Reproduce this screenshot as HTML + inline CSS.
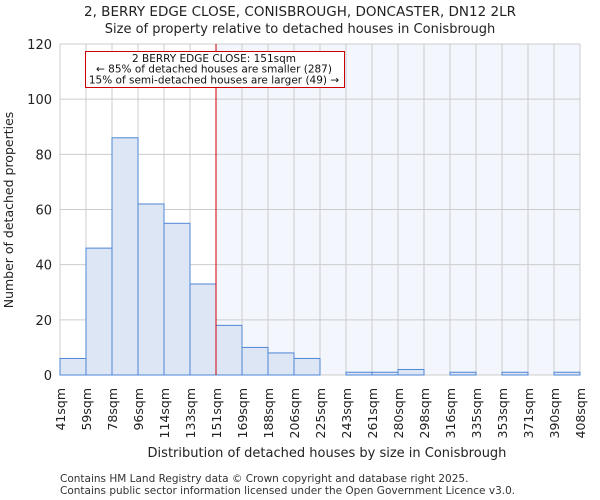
<!DOCTYPE html>
<html><head><meta charset="utf-8"><style>
body{margin:0;background:#fff;}
svg{display:block;font-family:"DejaVu Sans","Liberation Sans",sans-serif;}
</style></head><body>
<svg id="chart" width="600" height="500" viewBox="0 0 600 500">
<text x="300" y="16" text-anchor="middle" font-size="13.5" fill="#222">2, BERRY EDGE CLOSE, CONISBROUGH, DONCASTER, DN12 2LR</text>
<text x="300" y="33" text-anchor="middle" font-size="13" fill="#222">Size of property relative to detached houses in Conisbrough</text>
<g id="plot"></g>
<text x="327" y="457" text-anchor="middle" font-size="13" fill="#222">Distribution of detached houses by size in Conisbrough</text>
<text transform="translate(13,210) rotate(-90)" text-anchor="middle" font-size="12.5" fill="#222">Number of detached properties</text>
<text x="60" y="482" font-size="10.5" fill="#333">Contains HM Land Registry data © Crown copyright and database right 2025.</text>
<text x="60" y="494" font-size="10.5" fill="#333">Contains public sector information licensed under the Open Government Licence v3.0.</text>
</svg>
<script>
const edges = ["41sqm","59sqm","78sqm","96sqm","114sqm","133sqm","151sqm","169sqm","188sqm","206sqm","225sqm","243sqm","261sqm","280sqm","298sqm","316sqm","335sqm","353sqm","371sqm","390sqm","408sqm"];
const counts = [6,46,86,62,55,33,18,10,8,6,0,1,1,2,0,1,0,1,0,1];
const yTicks = [0,20,40,60,80,100,120];
const markerIndex = 6;
const NS="http://www.w3.org/2000/svg";
const X0=60,X1=580,Y0=375,Y1=44,YMAX=120;
const bw=(X1-X0)/counts.length;
const xs=i=>X0+i*bw;
const ys=v=>Y0-(v/YMAX)*(Y0-Y1);
const g=document.getElementById('plot');
function mk(tag,attrs){const e=document.createElementNS(NS,tag);for(const k in attrs)e.setAttribute(k,attrs[k]);g.appendChild(e);return e;}
let r=mk('rect',{x:xs(markerIndex),y:Y1,width:X1-xs(markerIndex),height:Y0-Y1,fill:'#f3f6fd'});


yTicks.forEach(t=>{
  let l=mk('line',{x1:X0,x2:X1,y1:ys(t),y2:ys(t),stroke:'#cccccc','stroke-width':1});
  
  
  let tx=mk('text',{x:X0-8,y:ys(t)+5,'text-anchor':'end','font-size':13,fill:'#222'});
  tx.textContent=t;
  
  
});
edges.forEach((e,i)=>{
  let l=mk('line',{x1:xs(i),x2:xs(i),y1:Y1,y2:Y0,stroke:'#cccccc','stroke-width':1});
  
  
  let tx=mk('text',{transform:`translate(${xs(i)+5},388) rotate(-90)`,'text-anchor':'end','font-size':12.5,fill:'#222'});
  tx.textContent=e;
  
  
});
counts.forEach((c,i)=>{
  if(c<=0)return;
  let b=mk('rect',{x:xs(i),y:ys(c),width:bw,height:Y0-ys(c),fill:'#dce6f5',stroke:'#4f86d6','stroke-width':1});
  
  
});
let m=mk('line',{x1:xs(markerIndex),x2:xs(markerIndex),y1:Y1,y2:Y0,stroke:'#cc0000','stroke-width':1});


let box=mk('rect',{x:85.5,y:51.5,width:259,height:36,fill:'#fff',stroke:'#cc0000','stroke-width':1});


["2 BERRY EDGE CLOSE: 151sqm","← 85% of detached houses are smaller (287)","15% of semi-detached houses are larger (49) →"].forEach((s,i)=>{
  let t=mk('text',{x:214,y:62+i*10.7,'text-anchor':'middle','font-size':10.5,fill:'#111'});
  t.textContent=s;
  
  
});
</script>
</body></html>
